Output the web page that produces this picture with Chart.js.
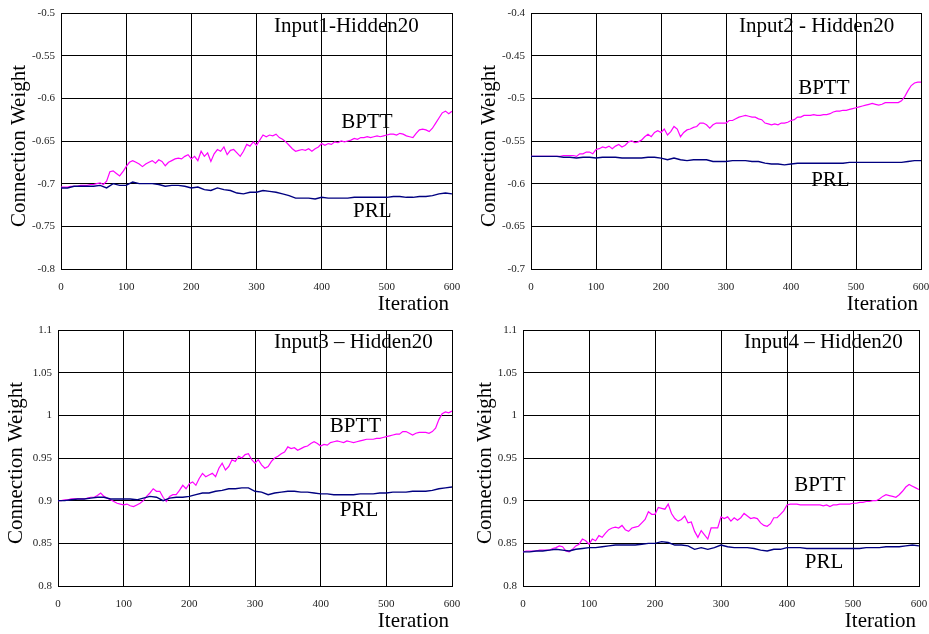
<!DOCTYPE html>
<html>
<head>
<meta charset="utf-8">
<script src="https://cdn.jsdelivr.net/npm/chart.js@4.4.1/dist/chart.umd.min.js"></script>
<style>
    body { margin: 0; background: #fff; width: 929px; height: 634px; position: relative; overflow: hidden; }
    canvas { position: absolute; }
</style>
</head>
<body>
<canvas id="c1" width="465" height="315" style="left:0;top:0"></canvas>
<canvas id="c2" width="464" height="315" style="left:465px;top:0"></canvas>
<canvas id="c3" width="465" height="319" style="left:0;top:315px"></canvas>
<canvas id="c4" width="464" height="319" style="left:465px;top:315px"></canvas>
<script>
/* ================= DATA ================= */
// BPTT read every 5 iterations, PRL every 10
const iterFine = [
    0, 5, 10, 15, 20, 25, 30, 35, 40, 45, 50, 55, 60, 65, 70, 75, 80, 85, 90, 95,
    100, 105, 110, 115, 120, 125, 130, 135, 140, 145, 150, 155, 160, 165, 170, 175, 180, 185, 190, 195,
    200, 205, 210, 215, 220, 225, 230, 235, 240, 245, 250, 255, 260, 265, 270, 275, 280, 285, 290, 295,
    300, 305, 310, 315, 320, 325, 330, 335, 340, 345, 350, 355, 360, 365, 370, 375, 380, 385, 390, 395,
    400, 405, 410, 415, 420, 425, 430, 435, 440, 445, 450, 455, 460, 465, 470, 475, 480, 485, 490, 495,
    500, 505, 510, 515, 520, 525, 530, 535, 540, 545, 550, 555, 560, 565, 570, 575, 580, 585, 590, 595,
    600
];
const iterCoarse = [
    0, 10, 20, 30, 40, 50, 60, 70, 80, 90, 100, 110, 120, 130, 140, 150, 160, 170, 180, 190,
    200, 210, 220, 230, 240, 250, 260, 270, 280, 290, 300, 310, 320, 330, 340, 350, 360, 370, 380, 390,
    400, 410, 420, 430, 440, 450, 460, 470, 480, 490, 500, 510, 520, 530, 540, 550, 560, 570, 580, 590,
    600
];
const xTicks = [0, 100, 200, 300, 400, 500, 600];

const p1Bptt = [
    -0.704, -0.704, -0.704, -0.703, -0.703, -0.703, -0.702, -0.702, -0.702, -0.701,
    -0.701, -0.700, -0.699, -0.701, -0.697, -0.686, -0.685, -0.688, -0.691, -0.686,
    -0.680, -0.675, -0.673, -0.675, -0.677, -0.680, -0.677, -0.675, -0.673, -0.676,
    -0.672, -0.674, -0.679, -0.675, -0.673, -0.671, -0.670, -0.671, -0.668, -0.666,
    -0.671, -0.668, -0.673, -0.662, -0.668, -0.664, -0.674, -0.665, -0.660, -0.662,
    -0.657, -0.666, -0.661, -0.660, -0.664, -0.668, -0.662, -0.654, -0.656, -0.651,
    -0.655, -0.649, -0.643, -0.645, -0.643, -0.644, -0.642, -0.646, -0.648, -0.651,
    -0.655, -0.659, -0.662, -0.661, -0.660, -0.661, -0.659, -0.662, -0.659, -0.657,
    -0.653, -0.655, -0.653, -0.654, -0.651, -0.652, -0.650, -0.651, -0.650, -0.649,
    -0.647, -0.648, -0.646, -0.646, -0.645, -0.646, -0.645, -0.644, -0.645, -0.644,
    -0.643, -0.642, -0.642, -0.643, -0.641, -0.642, -0.644, -0.645, -0.646, -0.641,
    -0.637, -0.636, -0.637, -0.639, -0.635, -0.629, -0.623, -0.617, -0.615, -0.618,
    -0.615
];
const p1Prl = [
    -0.705, -0.705, -0.703, -0.703, -0.703, -0.703, -0.702, -0.705, -0.700, -0.702,
    -0.702, -0.698, -0.700, -0.700, -0.700, -0.701, -0.703, -0.702, -0.702, -0.703,
    -0.705, -0.704, -0.707, -0.708, -0.705, -0.707, -0.708, -0.711, -0.712, -0.710,
    -0.710, -0.708, -0.709, -0.710, -0.712, -0.714, -0.717, -0.717, -0.717, -0.718,
    -0.716, -0.717, -0.717, -0.717, -0.717, -0.716, -0.716, -0.716, -0.716, -0.716,
    -0.716, -0.715, -0.715, -0.716, -0.716, -0.715, -0.715, -0.714, -0.712, -0.711,
    -0.712
];

const p2Bptt = [
    -0.568, -0.568, -0.568, -0.568, -0.568, -0.568, -0.568, -0.568, -0.568, -0.568,
    -0.567, -0.567, -0.567, -0.567, -0.568, -0.565, -0.565, -0.563, -0.563, -0.565,
    -0.560, -0.559, -0.557, -0.558, -0.556, -0.559, -0.556, -0.554, -0.557, -0.555,
    -0.551, -0.550, -0.552, -0.551, -0.549, -0.545, -0.542, -0.545, -0.540, -0.538,
    -0.540, -0.536, -0.543, -0.539, -0.533, -0.536, -0.545, -0.540, -0.537, -0.536,
    -0.534, -0.533, -0.529, -0.529, -0.531, -0.535, -0.531, -0.529, -0.529, -0.529,
    -0.529, -0.526, -0.526, -0.524, -0.522, -0.521, -0.520, -0.521, -0.522, -0.522,
    -0.524, -0.525, -0.529, -0.530, -0.531, -0.530, -0.531, -0.529, -0.529, -0.528,
    -0.526, -0.525, -0.522, -0.522, -0.520, -0.520, -0.520, -0.519, -0.520, -0.520,
    -0.519, -0.519, -0.518, -0.516, -0.515, -0.515, -0.514, -0.514, -0.513, -0.512,
    -0.511, -0.510, -0.509, -0.508, -0.507, -0.506, -0.507, -0.508, -0.507, -0.505,
    -0.505, -0.505, -0.505, -0.505, -0.503, -0.498, -0.491, -0.485, -0.482, -0.481,
    -0.481
];
const p2Prl = [
    -0.568, -0.568, -0.568, -0.568, -0.568, -0.569, -0.569, -0.570, -0.569, -0.569,
    -0.570, -0.569, -0.569, -0.569, -0.570, -0.570, -0.570, -0.570, -0.569, -0.569,
    -0.570, -0.572, -0.570, -0.572, -0.573, -0.572, -0.572, -0.572, -0.574, -0.574,
    -0.574, -0.573, -0.573, -0.573, -0.574, -0.574, -0.576, -0.577, -0.577, -0.578,
    -0.577, -0.576, -0.576, -0.576, -0.576, -0.576, -0.576, -0.576, -0.576, -0.575,
    -0.575, -0.575, -0.575, -0.575, -0.575, -0.575, -0.575, -0.575, -0.574, -0.573,
    -0.573
];

const p3Bptt = [
    0.900, 0.900, 0.901, 0.901, 0.902, 0.902, 0.902, 0.902, 0.902, 0.903,
    0.904, 0.904, 0.906, 0.909, 0.905, 0.903, 0.901, 0.899, 0.897, 0.896,
    0.895, 0.896, 0.894, 0.893, 0.895, 0.897, 0.900, 0.905, 0.909, 0.914,
    0.911, 0.911, 0.904, 0.899, 0.905, 0.907, 0.907, 0.912, 0.918, 0.914,
    0.920, 0.922, 0.918, 0.926, 0.932, 0.928, 0.930, 0.932, 0.928, 0.938,
    0.944, 0.936, 0.940, 0.948, 0.946, 0.952, 0.950, 0.954, 0.955, 0.948,
    0.944, 0.948, 0.942, 0.938, 0.940, 0.946, 0.950, 0.952, 0.955, 0.957,
    0.963, 0.961, 0.962, 0.959, 0.961, 0.963, 0.964, 0.967, 0.969, 0.967,
    0.964, 0.966, 0.965, 0.968, 0.969, 0.970, 0.969, 0.968, 0.970, 0.969,
    0.968, 0.969, 0.970, 0.971, 0.972, 0.972, 0.972, 0.973, 0.973, 0.974,
    0.975, 0.976, 0.977, 0.978, 0.978, 0.981, 0.981, 0.979, 0.977, 0.979,
    0.980, 0.980, 0.980, 0.979, 0.981, 0.985, 0.995, 1.002, 1.004, 1.003,
    1.005
];
const p3Prl = [
    0.900, 0.900, 0.901, 0.902, 0.902, 0.903, 0.904, 0.904, 0.902, 0.902,
    0.902, 0.902, 0.901, 0.903, 0.905, 0.904, 0.900, 0.903, 0.904, 0.904,
    0.905, 0.907, 0.909, 0.909, 0.911, 0.912, 0.914, 0.914, 0.915, 0.915,
    0.911, 0.910, 0.907, 0.909, 0.910, 0.911, 0.911, 0.910, 0.910, 0.909,
    0.908, 0.908, 0.907, 0.907, 0.907, 0.907, 0.908, 0.908, 0.908, 0.909,
    0.909, 0.910, 0.910, 0.910, 0.911, 0.911, 0.911, 0.912, 0.914, 0.915,
    0.916
];

const p4Bptt = [
    0.840, 0.841, 0.841, 0.841, 0.841, 0.842, 0.842, 0.842, 0.842, 0.844,
    0.845, 0.847, 0.846, 0.841, 0.840, 0.843, 0.847, 0.849, 0.855, 0.853,
    0.849, 0.855, 0.853, 0.859, 0.857, 0.862, 0.866, 0.868, 0.869, 0.868,
    0.871, 0.866, 0.864, 0.868, 0.869, 0.870, 0.874, 0.878, 0.887, 0.884,
    0.884, 0.892, 0.891, 0.890, 0.896, 0.885, 0.879, 0.876, 0.878, 0.882,
    0.874, 0.875, 0.864, 0.857, 0.865, 0.860, 0.855, 0.868, 0.868, 0.868,
    0.881, 0.879, 0.881, 0.876, 0.880, 0.877, 0.880, 0.885, 0.882, 0.879,
    0.880, 0.879, 0.874, 0.871, 0.870, 0.873, 0.880, 0.880, 0.884, 0.888,
    0.895, 0.896, 0.896, 0.896, 0.895, 0.895, 0.895, 0.895, 0.895, 0.895,
    0.895, 0.894, 0.895, 0.893, 0.895, 0.895, 0.896, 0.896, 0.896, 0.896,
    0.897, 0.897, 0.898, 0.898, 0.899, 0.899, 0.900, 0.900, 0.902, 0.905,
    0.907, 0.906, 0.905, 0.904, 0.907, 0.911, 0.916, 0.919, 0.917, 0.915,
    0.913
];
const p4Prl = [
    0.840, 0.840, 0.841, 0.841, 0.842, 0.843, 0.842, 0.841, 0.843, 0.844,
    0.845, 0.845, 0.846, 0.847, 0.848, 0.848, 0.848, 0.848, 0.849, 0.850,
    0.850, 0.852, 0.851, 0.848, 0.848, 0.847, 0.843, 0.845, 0.843, 0.845,
    0.848, 0.846, 0.845, 0.845, 0.845, 0.844, 0.842, 0.841, 0.843, 0.843,
    0.845, 0.845, 0.845, 0.844, 0.844, 0.844, 0.844, 0.844, 0.844, 0.844,
    0.844, 0.844, 0.845, 0.845, 0.845, 0.846, 0.846, 0.846, 0.847, 0.848,
    0.847
];

/* ================= PANELS ================= */
// area = [left, top, right, bottom] of the plot box inside each canvas
const panels = [
    { id: "c1", title: "Input1-Hidden20", bptt: p1Bptt, prl: p1Prl, yMin: -0.8, yMax: -0.5,
      area: [61, 13, 452, 269], yTitleX: 19,
      titleAt: [327, -0.516], bpttAt: [430, -0.628], prlAt: [448, -0.733] },
    { id: "c2", title: "Input2 - Hidden20", bptt: p2Bptt, prl: p2Prl, yMin: -0.7, yMax: -0.4,
      area: [66, 13, 456, 269], yTitleX: 24,
      titleAt: [320, -0.416], bpttAt: [411, -0.489], prlAt: [431, -0.596] },
    { id: "c3", title: "Input3 \u2013 Hidden20", bptt: p3Bptt, prl: p3Prl, yMin: 0.8, yMax: 1.1,
      area: [58, 15, 452, 271], yTitleX: 16,
      titleAt: [329, 1.085], bpttAt: [414, 0.987], prlAt: [429, 0.888] },
    { id: "c4", title: "Input4 \u2013 Hidden20", bptt: p4Bptt, prl: p4Prl, yMin: 0.8, yMax: 1.1,
      area: [58, 15, 454, 271], yTitleX: 20,
      titleAt: [335, 1.085], bpttAt: [411, 0.918], prlAt: [427, 0.828] }
];

const SERIF = "'Liberation Serif', 'Times New Roman', serif";

/* ================= TEXT PLUGIN ================= */
const textLabels = {
    id: "textLabels",
    afterDraw(chart) {
        const p = chart.options.plugins.textLabels.panel;
        const { ctx, chartArea: a, scales } = chart;
        const at = pos => [scales.x.getPixelForValue(pos[0]), scales.y.getPixelForValue(pos[1])];
        ctx.save();
        ctx.fillStyle = "#000";
        ctx.font = `21px ${SERIF}`;
        ctx.textBaseline = "middle";
        ctx.textAlign = "left";
        [[p.title, p.titleAt], ["BPTT", p.bpttAt], ["PRL", p.prlAt]].forEach(([txt, pos]) => {
            const [x, y] = at(pos);
            ctx.fillText(txt, x, y);
        });
        ctx.textAlign = "right";
        ctx.fillText("Iteration", a.right - 3, a.bottom + 35);
        ctx.translate(p.yTitleX, (a.top + a.bottom) / 2 + 5);
        ctx.rotate(-Math.PI / 2);
        ctx.textAlign = "center";
        ctx.fillText("Connection Weight", 0, 0);
        ctx.restore();
    }
};

/* ================= CHARTS ================= */
function buildPanel(p) {
    const cv = document.getElementById(p.id);
    const [l, t, r, b] = p.area;
    new Chart(cv.getContext("2d"), {
        type: "line",
        data: {
            datasets: [
                {
                    label: "PRL",
                    data: iterCoarse.map((x, k) => ({ x, y: p.prl[k] })),
                    borderColor: "#000080",
                    borderWidth: 1.4,
                    pointRadius: 0,
                    tension: 0
                },
                {
                    label: "BPTT",
                    data: iterFine.map((x, k) => ({ x, y: p.bptt[k] })),
                    borderColor: "#ff00ff",
                    borderWidth: 1.2,
                    pointRadius: 0,
                    tension: 0
                }
            ]
        },
        options: {
            responsive: false,
            animation: false,
            devicePixelRatio: 1,
            layout: { padding: { left: 0, top: t, right: cv.width - r, bottom: 0 } },
            scales: {
                x: {
                    type: "linear",
                    min: 0,
                    max: 600,
                    afterBuildTicks: s => { s.ticks = xTicks.map(v => ({ value: v })); },
                    afterFit: s => { s.height = cv.height - b; s.paddingLeft = 0; s.paddingRight = 0; },
                    grid: { color: "#000", lineWidth: 1, drawTicks: false },
                    border: { color: "#000", width: 1 },
                    ticks: { color: "#222", font: { family: SERIF, size: 11 }, padding: 12, maxRotation: 0 }
                },
                y: {
                    min: p.yMin,
                    max: p.yMax,
                    afterFit: s => { s.width = l; },
                    grid: { color: "#000", lineWidth: 1, drawTicks: false },
                    border: { color: "#000", width: 1 },
                    ticks: {
                        stepSize: 0.05,
                        color: "#222",
                        font: { family: SERIF, size: 11 },
                        padding: 6,
                        callback: v => String(parseFloat(v.toFixed(2)))
                    }
                }
            },
            plugins: {
                legend: { display: false },
                tooltip: { enabled: false },
                textLabels: { panel: p }
            }
        },
        plugins: [textLabels]
    });
}

panels.forEach(buildPanel);
</script>
</body>
</html>
